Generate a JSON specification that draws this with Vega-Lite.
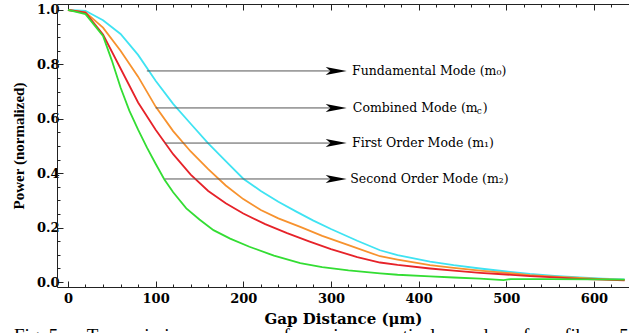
{
  "$schema": "https://vega.github.io/schema/vega-lite/v6.json",
  "width": 572,
  "height": 283,
  "autosize": {"type": "none"},
  "padding": {"left": 57, "top": 4, "right": 0, "bottom": 46},
  "background": "white",
  "config": {"view": {"stroke": null}},
  "title": {
    "text": "Fig. 5.\u00a0\u00a0\u00a0\u00a0\u00a0Transmission\u00a0\u00a0\u00a0\u00a0power\u00a0\u00a0\u00a0\u00a0of\u00a0\u00a0\u00a0\u00a0various\u00a0\u00a0\u00a0\u00a0optical\u00a0\u00a0\u00a0\u00a0modes\u00a0\u00a0\u00a0\u00a0for\u00a0\u00a0\u00a0\u00a0fiber\u00a0\u00a0\u00a0\u00a05",
    "orient": "bottom",
    "anchor": "start",
    "frame": "group",
    "dx": -43,
    "offset": 1,
    "font": "Liberation Serif",
    "fontSize": 19,
    "fontWeight": "normal",
    "color": "black",
    "baseline": "top"
  },
  "datasets": {
    "curves": [
      {"mode": "Fundamental", "gap": 0, "power": 1.0},
      {"mode": "Fundamental", "gap": 20, "power": 0.997},
      {"mode": "Fundamental", "gap": 40, "power": 0.962},
      {"mode": "Fundamental", "gap": 60, "power": 0.912},
      {"mode": "Fundamental", "gap": 80, "power": 0.835},
      {"mode": "Fundamental", "gap": 100, "power": 0.74},
      {"mode": "Fundamental", "gap": 120, "power": 0.655},
      {"mode": "Fundamental", "gap": 140, "power": 0.582},
      {"mode": "Fundamental", "gap": 160, "power": 0.51},
      {"mode": "Fundamental", "gap": 180, "power": 0.445},
      {"mode": "Fundamental", "gap": 200, "power": 0.38},
      {"mode": "Fundamental", "gap": 220, "power": 0.335},
      {"mode": "Fundamental", "gap": 240, "power": 0.295},
      {"mode": "Fundamental", "gap": 260, "power": 0.26},
      {"mode": "Fundamental", "gap": 280, "power": 0.226},
      {"mode": "Fundamental", "gap": 300, "power": 0.195},
      {"mode": "Fundamental", "gap": 330, "power": 0.152},
      {"mode": "Fundamental", "gap": 356, "power": 0.117},
      {"mode": "Fundamental", "gap": 376, "power": 0.099},
      {"mode": "Fundamental", "gap": 413, "power": 0.075},
      {"mode": "Fundamental", "gap": 440, "power": 0.062},
      {"mode": "Fundamental", "gap": 470, "power": 0.05},
      {"mode": "Fundamental", "gap": 500, "power": 0.039},
      {"mode": "Fundamental", "gap": 527, "power": 0.03},
      {"mode": "Fundamental", "gap": 555, "power": 0.023},
      {"mode": "Fundamental", "gap": 584, "power": 0.017},
      {"mode": "Fundamental", "gap": 610, "power": 0.013},
      {"mode": "Fundamental", "gap": 635, "power": 0.01},
      {"mode": "Combined", "gap": 0, "power": 1.0},
      {"mode": "Combined", "gap": 20, "power": 0.991},
      {"mode": "Combined", "gap": 40, "power": 0.935},
      {"mode": "Combined", "gap": 60, "power": 0.85},
      {"mode": "Combined", "gap": 80, "power": 0.755},
      {"mode": "Combined", "gap": 100, "power": 0.645},
      {"mode": "Combined", "gap": 120, "power": 0.555},
      {"mode": "Combined", "gap": 140, "power": 0.48},
      {"mode": "Combined", "gap": 160, "power": 0.415},
      {"mode": "Combined", "gap": 180, "power": 0.355},
      {"mode": "Combined", "gap": 200, "power": 0.305},
      {"mode": "Combined", "gap": 220, "power": 0.265},
      {"mode": "Combined", "gap": 240, "power": 0.234},
      {"mode": "Combined", "gap": 265, "power": 0.203},
      {"mode": "Combined", "gap": 290, "power": 0.17},
      {"mode": "Combined", "gap": 320, "power": 0.136},
      {"mode": "Combined", "gap": 356, "power": 0.095},
      {"mode": "Combined", "gap": 376, "power": 0.083},
      {"mode": "Combined", "gap": 413, "power": 0.062},
      {"mode": "Combined", "gap": 440, "power": 0.052},
      {"mode": "Combined", "gap": 470, "power": 0.042},
      {"mode": "Combined", "gap": 500, "power": 0.034},
      {"mode": "Combined", "gap": 527, "power": 0.026},
      {"mode": "Combined", "gap": 555, "power": 0.02},
      {"mode": "Combined", "gap": 584, "power": 0.015},
      {"mode": "Combined", "gap": 610, "power": 0.011},
      {"mode": "Combined", "gap": 635, "power": 0.008},
      {"mode": "First", "gap": 0, "power": 1.0},
      {"mode": "First", "gap": 20, "power": 0.99},
      {"mode": "First", "gap": 40, "power": 0.91},
      {"mode": "First", "gap": 60, "power": 0.785},
      {"mode": "First", "gap": 80, "power": 0.66},
      {"mode": "First", "gap": 100, "power": 0.56},
      {"mode": "First", "gap": 120, "power": 0.47},
      {"mode": "First", "gap": 140, "power": 0.395},
      {"mode": "First", "gap": 160, "power": 0.335},
      {"mode": "First", "gap": 180, "power": 0.29},
      {"mode": "First", "gap": 200, "power": 0.252},
      {"mode": "First", "gap": 225, "power": 0.213},
      {"mode": "First", "gap": 250, "power": 0.18},
      {"mode": "First", "gap": 275, "power": 0.15},
      {"mode": "First", "gap": 300, "power": 0.121},
      {"mode": "First", "gap": 330, "power": 0.092},
      {"mode": "First", "gap": 356, "power": 0.072},
      {"mode": "First", "gap": 376, "power": 0.063},
      {"mode": "First", "gap": 413, "power": 0.05},
      {"mode": "First", "gap": 440, "power": 0.042},
      {"mode": "First", "gap": 470, "power": 0.034},
      {"mode": "First", "gap": 500, "power": 0.028},
      {"mode": "First", "gap": 527, "power": 0.022},
      {"mode": "First", "gap": 555, "power": 0.017},
      {"mode": "First", "gap": 584, "power": 0.012},
      {"mode": "First", "gap": 610, "power": 0.009},
      {"mode": "First", "gap": 635, "power": 0.006},
      {"mode": "Second", "gap": 0, "power": 1.0},
      {"mode": "Second", "gap": 20, "power": 0.985},
      {"mode": "Second", "gap": 40, "power": 0.905},
      {"mode": "Second", "gap": 50, "power": 0.815},
      {"mode": "Second", "gap": 60, "power": 0.715},
      {"mode": "Second", "gap": 70, "power": 0.63},
      {"mode": "Second", "gap": 80, "power": 0.56},
      {"mode": "Second", "gap": 90, "power": 0.495},
      {"mode": "Second", "gap": 100, "power": 0.435},
      {"mode": "Second", "gap": 110, "power": 0.377},
      {"mode": "Second", "gap": 120, "power": 0.33},
      {"mode": "Second", "gap": 135, "power": 0.271},
      {"mode": "Second", "gap": 150, "power": 0.23},
      {"mode": "Second", "gap": 166, "power": 0.191},
      {"mode": "Second", "gap": 185, "power": 0.16},
      {"mode": "Second", "gap": 207, "power": 0.13},
      {"mode": "Second", "gap": 235, "power": 0.097},
      {"mode": "Second", "gap": 265, "power": 0.07},
      {"mode": "Second", "gap": 290, "power": 0.055},
      {"mode": "Second", "gap": 320, "power": 0.043},
      {"mode": "Second", "gap": 356, "power": 0.032},
      {"mode": "Second", "gap": 376, "power": 0.027},
      {"mode": "Second", "gap": 413, "power": 0.021},
      {"mode": "Second", "gap": 440, "power": 0.017},
      {"mode": "Second", "gap": 470, "power": 0.013},
      {"mode": "Second", "gap": 497, "power": 0.007},
      {"mode": "Second", "gap": 505, "power": 0.011},
      {"mode": "Second", "gap": 550, "power": 0.011},
      {"mode": "Second", "gap": 600, "power": 0.01},
      {"mode": "Second", "gap": 635, "power": 0.009}
    ],
    "notes": [
      {"mode": "Fundamental", "start": 90, "end": 300, "head": 306, "textx": 324, "level": 0.776, "label": "Fundamental Mode (m₀)"},
      {"mode": "Combined", "start": 100, "end": 300, "head": 306, "textx": 325, "level": 0.64, "label": "Combined Mode (m"},
      {"mode": "First", "start": 110.6, "end": 300, "head": 306, "textx": 324, "level": 0.511, "label": "First Order Mode (m₁)"},
      {"mode": "Second", "start": 110.6, "end": 300, "head": 306, "textx": 322, "level": 0.379, "label": "Second Order Mode (m₂)"}
    ]
  },
  "layer": [
    {
      "data": {"name": "curves"},
      "mark": {"type": "line", "strokeWidth": 1.8, "interpolate": "linear"},
      "encoding": {
        "x": {
          "field": "gap", "type": "quantitative",
          "scale": {"domain": [-12.5, 640], "nice": false, "zero": false},
          "axis": {
            "orient": "bottom",
            "values": [0,20,40,60,80,100,120,140,160,180,200,220,240,260,280,300,320,340,360,380,400,420,440,460,480,500,520,540,560,580,600,620],
            "labelExpr": "datum.value % 100 === 0 ? datum.label : ''",
            "format": "d",
            "tickSize": {"condition": {"test": "datum.value % 100 === 0", "value": -6}, "value": -3},
            "tickColor": "#222",
            "domainColor": "#222",
            "grid": false,
            "labelFont": "DejaVu Serif",
            "labelFontWeight": "bold",
            "labelFontSize": 13,
            "labelColor": "black",
            "labelPadding": 11,
            "labelFlush": false,
            "labelOverlap": false,
            "title": "Gap Distance (μm)",
            "titleFont": "DejaVu Serif",
            "titleFontSize": 15,
            "titleFontWeight": "bold",
            "titleColor": "black",
            "titlePadding": 3
          }
        },
        "y": {
          "field": "power", "type": "quantitative",
          "scale": {"domain": [-0.018, 1.022], "nice": false, "zero": false},
          "axis": {
            "orient": "left",
            "values": [0,0.05,0.1,0.15,0.2,0.25,0.3,0.35,0.4,0.45,0.5,0.55,0.6,0.65,0.7,0.75,0.8,0.85,0.9,0.95,1.0],
            "format": ".1f",
            "labelExpr": "abs(datum.value*5 - round(datum.value*5)) < 0.001 ? datum.label : ''",
            "tickSize": {"condition": {"test": "abs(datum.value*5 - round(datum.value*5)) < 0.001", "value": -6}, "value": -3},
            "tickColor": "#222",
            "domainColor": "#222",
            "grid": false,
            "labelFont": "DejaVu Serif",
            "labelFontWeight": "bold",
            "labelFontSize": 13,
            "labelColor": "black",
            "labelPadding": 4,
            "labelFlush": false,
            "labelOverlap": false,
            "title": "Power (normalized)",
            "titleFont": "Liberation Serif",
            "titleFontSize": 15,
            "titleFontWeight": "bold",
            "titleColor": "black",
            "titlePadding": 10
          }
        },
        "color": {
          "field": "mode", "type": "nominal",
          "scale": {"domain": ["Fundamental", "Combined", "First", "Second"], "range": ["#3FE3F2", "#F7922E", "#E62229", "#33DD33"]},
          "legend": null
        },
        "order": {"field": "gap", "type": "quantitative"}
      }
    },
    {
      "data": {"name": "notes"},
      "mark": {"type": "rule", "stroke": "#555", "strokeWidth": 1},
      "encoding": {
        "x": {
          "field": "start", "type": "quantitative",
          "axis": {
            "orient": "top",
            "values": [0,20,40,60,80,100,120,140,160,180,200,220,240,260,280,300,320,340,360,380,400,420,440,460,480,500,520,540,560,580,600,620],
            "labels": false,
            "title": null,
            "grid": false,
            "tickSize": {"condition": {"test": "datum.value % 100 === 0", "value": -6}, "value": -3},
            "tickColor": "#222",
            "domainColor": "#222"
          }
        },
        "x2": {"field": "end"},
        "y": {"field": "level", "type": "quantitative", "axis": null}
      }
    },
    {
      "data": {"name": "notes"},
      "mark": {"type": "point", "shape": "M1,0L-1,-0.38L-0.55,0L-1,0.38Z", "size": 441, "filled": true, "fill": "black", "opacity": 1, "strokeWidth": 0},
      "encoding": {
        "x": {"field": "head", "type": "quantitative", "axis": null},
        "y": {"field": "level", "type": "quantitative", "axis": null}
      }
    },
    {
      "data": {"name": "notes"},
      "mark": {"type": "text", "align": "left", "baseline": "middle", "font": "DejaVu Serif", "fontSize": 12.5, "color": "black"},
      "encoding": {
        "x": {"field": "textx", "type": "quantitative", "axis": null},
        "y": {"field": "level", "type": "quantitative", "axis": null},
        "text": {"field": "label"}
      }
    },
    {
      "data": {"name": "notes"},
      "transform": [{"filter": "datum.mode === 'Combined'"}],
      "mark": {"type": "text", "align": "left", "baseline": "middle", "font": "DejaVu Serif", "fontSize": 9, "color": "black", "dx": 124, "dy": 3},
      "encoding": {
        "x": {"field": "textx", "type": "quantitative", "axis": null},
        "y": {"field": "level", "type": "quantitative", "axis": null},
        "text": {"value": "c"}
      }
    },
    {
      "data": {"name": "notes"},
      "transform": [{"filter": "datum.mode === 'Combined'"}],
      "mark": {"type": "text", "align": "left", "baseline": "middle", "font": "DejaVu Serif", "fontSize": 12.5, "color": "black", "dx": 130},
      "encoding": {
        "x": {"field": "textx", "type": "quantitative", "axis": null},
        "y": {"field": "level", "type": "quantitative", "axis": null},
        "text": {"value": ")"}
      }
    }
  ],
  "resolve": {"axis": {"x": "independent", "y": "independent"}}
}
